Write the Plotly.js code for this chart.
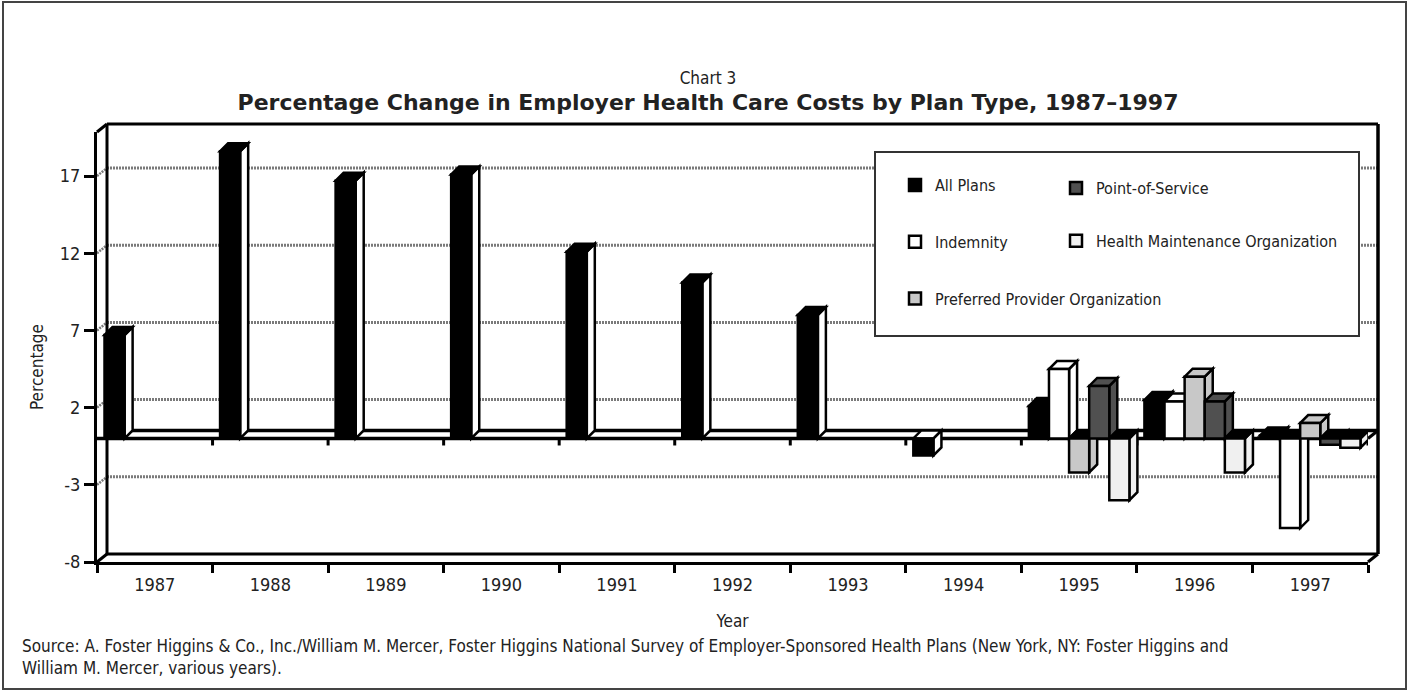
<!DOCTYPE html>
<html>
<head>
<meta charset="utf-8">
<script src="https://cdn.plot.ly/plotly-3.0.1.min.js"></script>
<style>
html, body { margin: 0; padding: 0; background: #ffffff; }
#chart { width: 1409px; height: 692px; }
</style>
</head>
<body>
<div id="chart"></div>
<script>
// ---------------- data ----------------
const years = ['1987', '1988', '1989', '1990', '1991', '1992', '1993', '1994', '1995', '1996', '1997'];
const seriesNames = ['All Plans', 'Indemnity', 'Preferred Provider Organization', 'Point-of-Service', 'Health Maintenance Organization'];
const allPlans  = [6.7, 18.6, 16.7, 17.1, 12.1, 10.1, 8.0, -1.1, 2.1, 2.5, 0.2];
const indemnity = [null, null, null, null, null, null, null, null, 4.5, 2.4, -5.8];
const ppo       = [null, null, null, null, null, null, null, null, -2.2, 4.0, 1.0];
const pos       = [null, null, null, null, null, null, null, null, 3.4, 2.4, -0.4];
const hmo       = [null, null, null, null, null, null, null, null, -4.0, -2.2, -0.6];
const yTicks    = [17, 12, 7, 2, -3, -8];
const yTickText = ['17', '12', '7', '2', '-3', '-8'];
const yRange    = [-8, 19.85];

// ---------------- styles ----------------
const series = [allPlans, indemnity, ppo, pos, hmo];
const frontColors = ['#000000', '#ffffff', '#c8c8c8', '#505050', '#f0f0f0'];
const sideColors  = ['#ffffff', '#ffffff', '#c8c8c8', '#505050', '#f0f0f0'];
const legendOf    = ['legend', 'legend', 'legend', 'legend2', 'legend2'];

const W = 1409, H = 692;
const M = { l: 97, r: 41, t: 132, b: 130 };
const plotW = W - M.l - M.r, plotH = H - M.t - M.b;
const catPx = plotW / years.length;
const unitPx = plotH / (yRange[1] - yRange[0]);
const BARGAP = 0.13;
const bw = (1 - BARGAP) / series.length;

const DX = 10, DY = 8;       // wall depth (px)
const BDX = 8, BDY = 8;      // bar depth (px)
const dxP = DX / plotW, dyP = DY / plotH;
const dyU = DY / unitPx;
const bdx = BDX / catPx, bdy = BDY / unitPx;

const px2x = p => (p - M.l) / plotW;
const py2y = p => (H - M.b - p) / plotH;

const FONT = '"DejaVu Sans Condensed", "Liberation Sans Narrow", "Liberation Sans", Arial, sans-serif';
const TXT = '#222222';

// ---------------- traces ----------------
const traces = series.map((vals, i) => ({
  type: 'bar',
  name: seriesNames[i],
  x: years,
  y: vals,
  marker: { color: frontColors[i], line: { color: '#000000', width: 2.5 } },
  legend: legendOf[i],
  legendgroup: 'g' + i,
  hoverinfo: 'x+y+name'
}));

// ---------------- shapes ----------------
const shapes = [];
const line = (o, w, c, dash) => Object.assign({ type: 'line', layer: 'below',
  line: { color: c || '#000000', width: w || 3, dash: dash || 'solid' } }, o);

// outer border
shapes.push({ type: 'rect', xref: 'paper', yref: 'paper', layer: 'below',
  x0: px2x(3), x1: px2x(1406), y0: py2y(689), y1: py2y(2),
  line: { color: '#444444', width: 2 }, fillcolor: 'rgba(0,0,0,0)' });

// back-wall gridlines and their connectors to the front axis
yTicks.filter(v => v !== yRange[0]).forEach(v => {
  shapes.push(line({ xref: 'paper', yref: 'y', x0: dxP, x1: 1 + dxP, y0: v + dyU, y1: v + dyU }, 3, '#7a7a7a', '2px,1px'));
  shapes.push(line({ xref: 'paper', yref: 'y', x0: 0, x1: dxP, y0: v, y1: v + dyU }, 2.5, '#7a7a7a', '2px,1px'));
});

// walls / floor frame
shapes.push(line({ xref: 'paper', yref: 'paper', x0: dxP, x1: dxP, y0: dyP, y1: 1 + dyP }, 3));
shapes.push(line({ xref: 'paper', yref: 'paper', x0: dxP, x1: 1 + dxP, y0: 1 + dyP, y1: 1 + dyP }, 3));
shapes.push(line({ xref: 'paper', yref: 'paper', x0: 1 + dxP, x1: 1 + dxP, y0: dyP, y1: 1 + dyP }, 3.5));
shapes.push(line({ xref: 'paper', yref: 'paper', x0: dxP, x1: 1 + dxP, y0: dyP, y1: dyP }, 3));
shapes.push(line({ xref: 'paper', yref: 'paper', x0: 0, x1: dxP, y0: 0, y1: dyP }, 3));
shapes.push(line({ xref: 'paper', yref: 'paper', x0: 1, x1: 1 + dxP, y0: 0, y1: dyP }, 3));
shapes.push(line({ xref: 'paper', yref: 'paper', x0: 0, x1: dxP, y0: 1, y1: 1 + dyP }, 3));

// zero plane
shapes.push(line({ xref: 'paper', yref: 'y', x0: dxP, x1: 1 + dxP, y0: dyU, y1: dyU }, 3.5));
shapes.push(line({ xref: 'paper', yref: 'y', x0: 0, x1: 1, y0: 0, y1: 0 }, 3.5));
shapes.push(line({ xref: 'paper', yref: 'y', x0: 1, x1: 1 + dxP, y0: 0, y1: dyU }, 3));
for (let k = 1; k <= years.length; k++) {
  shapes.push(line({ xref: 'x', yref: 'y', x0: k - 0.5, x1: k - 0.5, y0: 0, y1: -7 / unitPx }, 3));
}

// legend box
shapes.push({ type: 'rect', xref: 'paper', yref: 'paper', layer: 'below',
  x0: px2x(875), x1: px2x(1359), y0: py2y(336), y1: py2y(152),
  line: { color: '#333333', width: 2 }, fillcolor: '#ffffff' });

// 3-D faces of the bars (drawn under the front faces)
years.forEach((yr, j) => {
  series.forEach((vals, i) => {
    const v = vals[j];
    if (v === null || v === undefined) return;
    const xc = j - (1 - BARGAP) / 2 + (i + 0.5) * bw;
    const x0 = xc - bw / 2, x1 = xc + bw / 2;
    const top = Math.max(v, 0), bot = Math.min(v, 0);
    const topFill = v >= 0 ? frontColors[i] : (i === 0 ? '#ffffff' : '#000000');
    shapes.push({ type: 'path', xref: 'x', yref: 'y', layer: 'below',
      path: `M${x1},${bot} L${x1},${top} L${x1 + bdx},${top + bdy} L${x1 + bdx},${bot + bdy} Z`,
      fillcolor: sideColors[i], line: { color: '#000000', width: 2.5 } });
    shapes.push({ type: 'path', xref: 'x', yref: 'y', layer: 'below',
      path: `M${x0},${top} L${x1},${top} L${x1 + bdx},${top + bdy} L${x0 + bdx},${top + bdy} Z`,
      fillcolor: topFill, line: { color: '#000000', width: 2.5 } });
  });
});

// ---------------- layout ----------------
const layout = {
  width: W, height: H,
  margin: M,
  paper_bgcolor: '#ffffff', plot_bgcolor: 'rgba(0,0,0,0)',
  font: { family: FONT, color: TXT, size: 16 },
  barmode: 'group', bargap: BARGAP, bargroupgap: 0,
  title: {
    text: '<span style="font-family:DejaVu Sans Condensed;font-size:17px;font-weight:normal">Chart 3</span><br><b><span style="font-size:22px">Percentage Change in Employer Health Care Costs by Plan Type, 1987–1997</span></b>',
    font: { family: '"DejaVu Sans", sans-serif', size: 20, color: TXT },
    x: 708 / W, xref: 'container', xanchor: 'center',
    y: 1 - 84 / H, yref: 'container', yanchor: 'top'
  },
  xaxis: {
    type: 'category', range: [-0.5, years.length - 0.5],
    showline: true, linecolor: '#000000', linewidth: 3,
    ticks: 'outside', tickson: 'boundaries', ticklen: 8, tickwidth: 3, tickcolor: '#000000',
    tickfont: { size: 18, color: TXT }, ticklabelstandoff: 4,
    showgrid: false, zeroline: false, automargin: false, fixedrange: true,
    title: { text: 'Year', font: { size: 17, color: TXT }, standoff: 22 }
  },
  yaxis: {
    range: yRange, tickvals: yTicks, ticktext: yTickText,
    showline: true, linecolor: '#000000', linewidth: 3,
    ticks: 'outside', ticklen: 10, tickwidth: 3, tickcolor: '#000000',
    tickfont: { size: 18, color: TXT },
    showgrid: false, zeroline: false, automargin: false, fixedrange: true
  },
  legend: {
    x: px2x(895), y: py2y(168), xanchor: 'left', yanchor: 'top',
    bgcolor: 'rgba(0,0,0,0)', borderwidth: 0,
    font: { size: 16, color: TXT }, tracegroupgap: 33, traceorder: 'grouped'
  },
  legend2: {
    x: px2x(1056), y: py2y(171), xanchor: 'left', yanchor: 'top',
    bgcolor: 'rgba(0,0,0,0)', borderwidth: 0,
    font: { size: 16, color: TXT }, tracegroupgap: 29, traceorder: 'grouped'
  },
  showlegend: true,
  shapes: shapes,
  annotations: [{
    xref: 'paper', yref: 'paper', x: px2x(37), y: py2y(367),
    xanchor: 'center', yanchor: 'middle', textangle: -90, showarrow: false,
    font: { size: 17, color: TXT }, text: 'Percentage'
  }, {
    xref: 'paper', yref: 'paper', x: px2x(20), y: py2y(634),
    xanchor: 'left', yanchor: 'top', align: 'left', showarrow: false,
    font: { size: 17, color: TXT },
    text: 'Source: A. Foster Higgins &amp; Co., Inc./William M. Mercer, Foster Higgins National Survey of Employer-Sponsored Health Plans (New York, NY: Foster Higgins and<br>William M. Mercer, various years).'
  }]
};

Plotly.newPlot('chart', traces, layout, { displayModeBar: false, staticPlot: true });
</script>
</body>
</html>
